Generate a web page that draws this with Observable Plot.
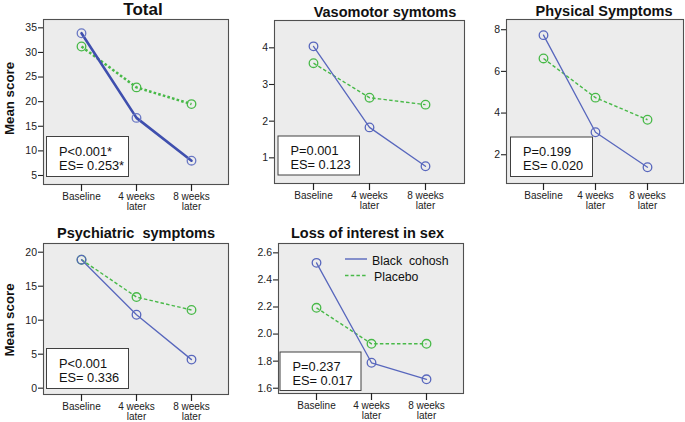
<!DOCTYPE html>
<html>
<head>
<meta charset="utf-8">
<script src="https://cdn.jsdelivr.net/npm/d3@7"></script>
<script src="https://cdn.jsdelivr.net/npm/@observablehq/plot@0.6"></script>
<style>
  html, body { margin: 0; padding: 0; background: #fff; }
  #chart { position: relative; width: 685px; height: 422px; font-family: "Liberation Sans", Arial, sans-serif; color: #222; }
  #chart > svg.panel { position: absolute; }
  #overlay { position: absolute; left: 0; top: 0; pointer-events: none; }
  #overlay text { font-family: "Liberation Sans", Arial, sans-serif; fill: #111; white-space: pre; }
</style>
</head>
<body>
<div id="chart"></div>
<script>
// ---------------- data ----------------
const timepoints = ["Baseline", "4 weeks\nlater", "8 weeks\nlater"];
const groups = ["Black  cohosh", "Placebo"];

const panelTitles = ["Total", "Vasomotor symtoms", "Physical Symptoms", "Psychiatric  symptoms", "Loss of interest in sex"];

const totalBlackCohosh = [33.9, 16.7, 8.0];
const totalPlacebo     = [31.2, 22.9, 19.5];
const vasoBlackCohosh  = [4.04, 1.83, 0.77];
const vasoPlacebo      = [3.58, 2.64, 2.45];
const physBlackCohosh  = [7.74, 3.08, 1.40];
const physPlacebo      = [6.62, 4.74, 3.68];
const psychBlackCohosh = [18.9, 10.8, 4.2];
const psychPlacebo     = [18.9, 13.4, 11.5];
const sexBlackCohosh   = [2.526, 1.788, 1.666];
const sexPlacebo       = [2.194, 1.928, 1.928];

const totalTicks = [5, 10, 15, 20, 25, 30, 35];
const vasoTicks  = [1, 2, 3, 4];
const physTicks  = [2, 4, 6, 8];
const psychTicks = [0, 5, 10, 15, 20];
const sexTicks   = [1.6, 1.8, 2.0, 2.2, 2.4, 2.6];

const pValues  = ["P<0.001*", "P=0.001", "P=0.199", "P<0.001", "P=0.237"];
const esValues = ["ES= 0.253*", "ES= 0.123", "ES= 0.020", "ES= 0.336", "ES= 0.017"];

const yAxisTitle = "Mean score";

// ---------------- layout ----------------
const BLUE = "#5867bd", BLUE_BOLD = "#3f4fae", GREEN = "#48b948";
const intFmt = d3.format("d"), oneDec = d3.format(".1f");
const panels = [
  {title: 0, bc: totalBlackCohosh, pl: totalPlacebo, ticks: totalTicks, domain: [3.17, 36.69], frame: [43, 228, 19, 184], bold: true,
   titleAt: [143, 15, 17], box: [46, 136, 82, 40], fmt: intFmt},
  {title: 1, bc: vasoBlackCohosh, pl: vasoPlacebo, ticks: vasoTicks, domain: [0.30, 4.745], frame: [274, 464, 20, 183],
   titleAt: [385, 16.5, 14.5], box: [277.5, 135.5, 81.5, 39], fmt: intFmt},
  {title: 2, bc: physBlackCohosh, pl: physPlacebo, ticks: physTicks, domain: [0.62, 8.49], frame: [506, 683, 19, 183],
   titleAt: [604, 16, 14.5], box: [510, 136.5, 82, 39.5], fmt: intFmt},
  {title: 3, bc: psychBlackCohosh, pl: psychPlacebo, ticks: psychTicks, domain: [-0.93, 21.28], frame: [43, 228, 243, 394],
   titleAt: [136, 238, 14.5], box: [46, 348, 82, 40], fmt: intFmt},
  {title: 4, bc: sexBlackCohosh, pl: sexPlacebo, ticks: sexTicks, domain: [1.561, 2.669], frame: [278, 463, 243, 393],
   titleAt: [367.5, 237.5, 14.5], box: [279.5, 351.5, 81, 38.5], fmt: oneDec},
];

const chart = document.getElementById("chart");
const ML = 46, MR = 3, MT = 4, MB = 32;

panels.forEach(p => {
  const [x0, x1, y0, y1] = p.frame;
  const rowsBC = timepoints.map((t, i) => ({time: t, value: p.bc[i]}));
  const rowsPL = timepoints.map((t, i) => ({time: t, value: p.pl[i]}));
  const sw = p.bold ? 2.6 : 1.3;
  const swG = p.bold ? 2.5 : 1.4;
  const blue = p.bold ? BLUE_BOLD : BLUE;
  const svg = Plot.plot({
    width: (x1 - x0) + ML + MR,
    height: (y1 - y0) + MT + MB,
    marginLeft: ML, marginRight: MR, marginTop: MT, marginBottom: MB,
    style: {background: "transparent", fontFamily: "\"Liberation Sans\", Arial, sans-serif", color: "#222", overflow: "visible"},
    x: {type: "point", domain: timepoints, padding: 0.67, axis: null, label: null},
    y: {domain: p.domain, axis: null, label: null},
    marks: [
      Plot.frame({fill: "#ececec", stroke: "#505050", strokeWidth: 1.1}),
      Plot.axisX({tickSize: 7, tickPadding: 2, fontSize: 10, lineHeight: 0.95, label: null, strokeWidth: 1.2}),
      Plot.axisY({ticks: p.ticks, tickSize: 5, tickPadding: 1.5, fontSize: 10.5, label: null, tickFormat: p.fmt, strokeWidth: 1.1}),
      Plot.line(rowsPL, {x: "time", y: "value", stroke: GREEN, strokeWidth: swG,
        strokeDasharray: p.bold ? "2.6,2.2" : "3.5,2.2", strokeLinecap: "butt", strokeLinejoin: "miter"}),
      Plot.line(rowsBC, {x: "time", y: "value", stroke: blue, strokeWidth: sw}),
      Plot.dot(rowsPL, {x: "time", y: "value", r: 4.3, stroke: GREEN, fill: "none", strokeWidth: 1.3}),
      Plot.dot(rowsBC, {x: "time", y: "value", r: 4.3, stroke: p.bold ? "#6a78c4" : BLUE, fill: "none", strokeWidth: 1.3}),
    ]
  });
  svg.classList.add("panel");
  svg.style.left = (x0 - ML) + "px";
  svg.style.top = (y0 - MT) + "px";
  chart.appendChild(svg);
});

// ---------------- overlay: titles, stats boxes, legend ----------------
const ov = d3.select(chart).append("svg").attr("id", "overlay").attr("width", 685).attr("height", 422);

panels.forEach(p => {
  const [cx, by, fs] = p.titleAt;
  ov.append("text").attr("x", cx).attr("y", by).attr("text-anchor", "middle")
    .attr("font-weight", "bold").attr("font-size", fs).text(panelTitles[p.title]);
  const [bx, byy, bw, bh] = p.box;
  ov.append("rect").attr("x", bx + 0.5).attr("y", byy + 0.5).attr("width", bw).attr("height", bh)
    .attr("fill", "#fff").attr("stroke", "#404040").attr("stroke-width", 1);
  ov.append("text").attr("x", bx + 13).attr("y", byy + 19.5).attr("font-size", 12.8).text(pValues[p.title]);
  ov.append("text").attr("x", bx + 13).attr("y", byy + 33.5).attr("font-size", 12.8).text(esValues[p.title]);
});

[98.5, 320].forEach(cy => {
  ov.append("text").attr("transform", `translate(13.5,${cy}) rotate(-90)`).attr("text-anchor", "middle")
    .attr("font-weight", "bold").attr("font-size", 13.3).text(yAxisTitle);
});

// legend
const leg = [{y: 259, color: BLUE, dash: null, label: groups[0], tx: 372, ty: 264.5},
             {y: 275.5, color: GREEN, dash: "3.5,2.2", label: groups[1], tx: 374, ty: 280.5}];
leg.forEach(l => {
  ov.append("line").attr("x1", 345).attr("x2", 367).attr("y1", l.y).attr("y2", l.y)
    .attr("stroke", l.color).attr("stroke-width", 1.4).attr("stroke-dasharray", l.dash);
  ov.append("text").attr("x", l.tx).attr("y", l.ty).attr("font-size", 12.3).text(l.label);
});
</script>
</body>
</html>
